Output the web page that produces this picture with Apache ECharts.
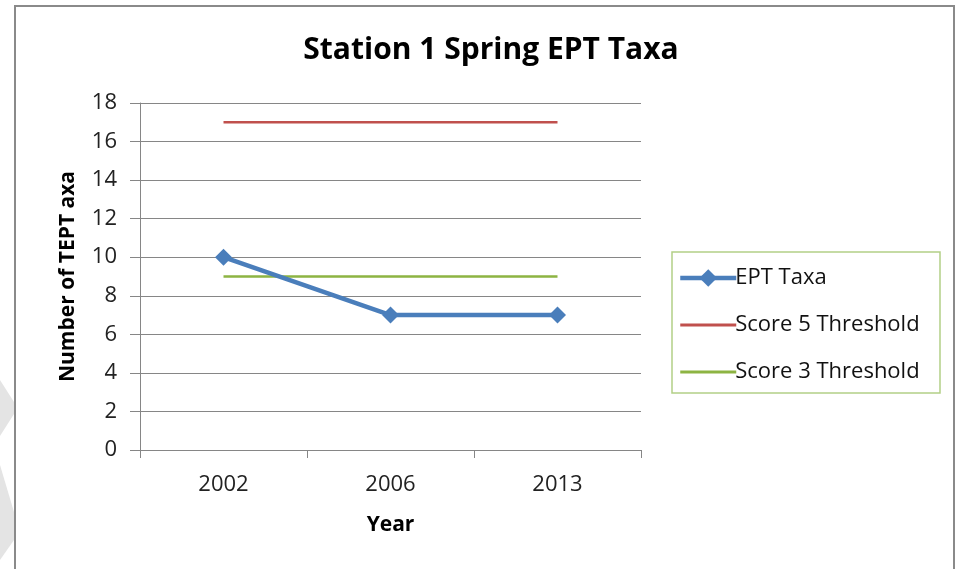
<!DOCTYPE html>
<html><head><meta charset="utf-8">
<script src="https://cdn.jsdelivr.net/npm/echarts@6/dist/echarts.min.js"></script>
<style>html,body{margin:0;padding:0;background:#fff}#c{width:963px;height:569px}</style>
</head><body><div id="c"></div>
<script>
const categories = ['2002', '2006', '2013'];
const eptTaxa = [10, 7, 7];
const score5 = [17, 17, 17];
const score3 = [9, 9, 9];
const yTicks = [0, 2, 4, 6, 8, 10, 12, 14, 16, 18];

const FONT = "'Open Sans', 'Noto Sans', sans-serif";
const chart = echarts.init(document.getElementById('c'), null, {renderer: 'canvas'});
chart.setOption({
  animation: false,
  backgroundColor: '#fff',
  title: {
    text: 'Station 1 Spring EPT Taxa', left: 486, top: 30, textAlign: 'center',
    textStyle: {fontFamily: FONT, fontSize: 30, fontWeight: 'bold', color: '#000'}
  },
  graphic: [
    {type: 'rect', shape: {x: 15, y: 6, width: 939, height: 580}, style: {fill: 'none', stroke: '#8a8a8a', lineWidth: 2}, z: 10},
    {type: 'polygon', shape: {points: [[0, 380], [14, 402], [14, 414], [0, 436]]}, style: {fill: '#e4e4e4'}},
    {type: 'polygon', shape: {points: [[0, 465], [14, 512], [14, 540], [0, 560]]}, style: {fill: '#e4e4e4'}},
    {type: 'rect', shape: {x: 672, y: 252, width: 268, height: 141}, style: {fill: 'none', stroke: '#b3cf86', lineWidth: 1.5}}
  ],
  legend: {
    orient: 'vertical', left: 673, top: 262, itemGap: 25, itemWidth: 56, itemHeight: 22,
    textStyle: {fontFamily: FONT, fontSize: 22, color: '#111', padding: [0, 0, 0, -6]},
    data: [
      {name: 'EPT Taxa', lineStyle: {width: 4.5}},
      {name: 'Score 5 Threshold', itemStyle: {opacity: 0}, lineStyle: {width: 3}},
      {name: 'Score 3 Threshold', itemStyle: {opacity: 0}, lineStyle: {width: 3}}
    ]
  },
  grid: {left: 140, right: 322, top: 103, bottom: 119},
  xAxis: {
    type: 'category', data: categories, boundaryGap: true,
    name: 'Year', nameLocation: 'middle', nameGap: 65,
    nameTextStyle: {fontFamily: FONT, fontSize: 21, fontWeight: 'bold', color: '#000'},
    axisLine: {lineStyle: {color: '#868686', width: 1}},
    axisTick: {show: true, length: 8, alignWithLabel: false, lineStyle: {color: '#868686'}},
    axisLabel: {fontFamily: FONT, fontSize: 22, color: '#222', margin: 24}
  },
  yAxis: {
    type: 'value', min: 0, max: 18, interval: 2,
    name: 'Number of TEPT axa', nameLocation: 'middle', nameGap: 61, nameRotate: 90,
    nameTextStyle: {fontFamily: FONT, fontSize: 21, fontWeight: 'bold', color: '#000'},
    axisLine: {show: true, lineStyle: {color: '#868686', width: 1}},
    axisTick: {show: true, length: 10, inside: false, lineStyle: {color: '#868686'}},
    splitLine: {lineStyle: {color: '#868686', width: 1}},
    axisLabel: {fontFamily: FONT, fontSize: 22, color: '#222', margin: 23,
      formatter: v => yTicks.includes(v) ? String(v) : ''}
  },
  series: [
    {name: 'EPT Taxa', type: 'line', data: eptTaxa, symbol: 'diamond', symbolSize: 17,
      lineStyle: {color: '#4A7EBB', width: 4.5}, itemStyle: {color: '#4A7EBB'}, z: 5},
    {name: 'Score 5 Threshold', type: 'line', data: score5, symbol: 'none',
      lineStyle: {color: '#C0504D', width: 2.5}, itemStyle: {color: '#C0504D'}},
    {name: 'Score 3 Threshold', type: 'line', data: score3, symbol: 'none',
      lineStyle: {color: '#8DB443', width: 2.5}, itemStyle: {color: '#8DB443'}}
  ]
});
</script></body></html>
